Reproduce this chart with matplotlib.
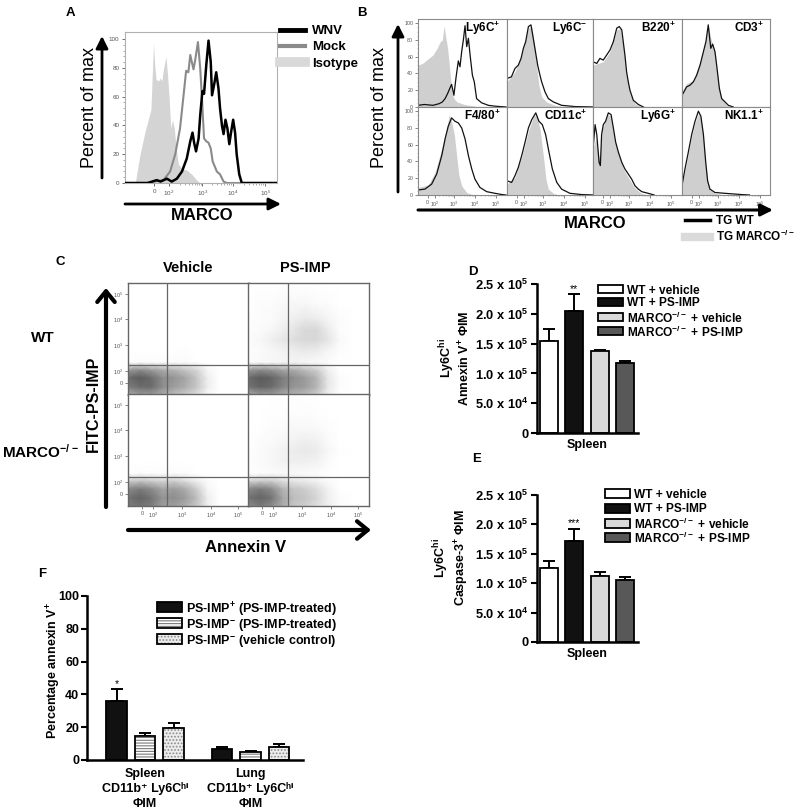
import numpy as np
import matplotlib
matplotlib.use("Agg")
import matplotlib.pyplot as plt
from matplotlib.patches import Rectangle
from matplotlib.lines import Line2D
from matplotlib.colors import LinearSegmentedColormap
from matplotlib.transforms import blended_transform_factory

# ---------------- data ----------------
# Panel A : MARCO histograms (x = log-decade channel, y = percent of max)
a_iso_x = [0.91, 1.06, 1.22, 1.40, 1.45, 1.48, 1.52, 1.56, 1.64, 1.69, 1.74, 1.79, 1.87,
           1.92, 1.97, 2.02, 2.07, 2.13, 2.19, 2.26, 2.37, 2.52, 2.68, 2.83, 2.94]
a_iso_y = [0, 20, 36, 51, 80, 97, 82, 72, 71, 73, 71, 79, 88, 75, 59, 38, 44, 38, 24, 13,
           10, 9, 6, 2, 0]
a_mock_x = [0.6, 1.27, 1.5, 1.79, 2.0, 2.16, 2.31, 2.42, 2.5, 2.57, 2.63, 2.68, 2.73, 2.78,
            2.87, 2.94, 2.99, 3.06, 3.13, 3.2, 3.27, 3.33, 3.46, 3.56, 3.67, 3.77, 5.34]
a_mock_y = [0, 0, 1, 2, 8, 20, 38, 61, 78, 77, 89, 84, 79, 85, 98, 80, 61, 31, 29, 28, 24,
            15, 8, 6, 1, 0, 0]
a_wnv_x = [0.6, 1.3, 1.58, 1.7, 1.9, 2.05, 2.21, 2.37, 2.52, 2.63, 2.70, 2.75, 2.81, 2.89,
           2.94, 3.01, 3.06, 3.13, 3.2, 3.27, 3.31, 3.38, 3.44, 3.51, 3.56, 3.62, 3.67, 3.73,
           3.79, 3.85, 3.91, 3.97, 4.03, 4.08, 4.16, 4.24, 5.34]
a_wnv_y = [0, 0, 2, 1, 3, 1, 3, 8, 17, 29, 35, 28, 22, 31, 47, 64, 62, 82, 99, 84, 61, 69,
           77, 66, 52, 40, 34, 44, 38, 27, 36, 44, 35, 20, 6, 0, 0]
a_legend = ["WNV", "Mock", "Isotype"]

# Panel B : per-population histograms (gray = TG MARCO-/-, black = TG WT)
b_titles = ["Ly6C$^{+}$", "Ly6C$^{-}$", "B220$^{+}$", "CD3$^{+}$",
            "F4/80$^{+}$", "CD11c$^{+}$", "Ly6G$^{+}$", "NK1.1$^{+}$"]
b_gray_x = [
    [1.29, 1.5, 1.8, 2.0, 2.2, 2.35, 2.45, 2.53, 2.6, 2.7, 2.8, 2.9, 3.0, 3.15, 3.5, 4.0, 4.3],
    [1.29, 1.67, 1.99, 2.31, 2.47, 2.59, 2.70, 2.81, 2.94, 3.18, 3.58, 4.05],
    [1.29, 1.78, 2.1, 2.42, 2.58, 2.73, 2.89, 3.05, 3.29, 3.61],
    [1.29, 1.51, 1.83, 2.15, 2.39, 2.54, 2.66, 2.86, 3.02, 3.18, 3.42, 3.66],
    [1.29, 1.78, 2.1, 2.42, 2.66, 2.78, 2.89, 3.02, 3.13, 3.24, 3.37, 3.61, 3.93],
    [1.29, 1.67, 1.99, 2.31, 2.55, 2.70, 2.86, 3.02, 3.15, 3.26, 3.5, 3.74],
    [1.29, 1.32, 1.43, 1.59, 1.75, 1.99, 2.15, 2.31, 2.55, 2.78, 3.02, 3.26, 3.58, 3.9],
    [1.29, 1.43, 1.59, 1.75, 1.91, 2.07, 2.19, 2.31, 2.42, 2.51, 2.62, 2.86, 3.3],
]
b_gray_y = [
    [50, 52, 58, 62, 70, 78, 80, 97, 85, 70, 45, 18, 10, 6, 3, 1, 0],
    [30, 42, 62, 94, 96, 75, 50, 26, 12, 6, 2, 0],
    [50, 54, 66, 92, 94, 74, 38, 16, 4, 0],
    [18, 28, 32, 54, 76, 98, 82, 66, 30, 10, 2, 0],
    [9, 12, 27, 55, 80, 96, 88, 72, 47, 23, 11, 3, 0],
    [13, 21, 45, 76, 94, 96, 79, 47, 18, 7, 2, 0],
    [55, 59, 67, 43, 80, 96, 94, 67, 45, 29, 19, 9, 2, 0],
    [10, 29, 49, 70, 86, 97, 92, 70, 36, 15, 6, 2, 0],
]
b_black_x = [
    [1.29, 1.6, 2.0, 2.3, 2.45, 2.58, 2.7, 2.8, 2.89, 3.0, 3.1, 3.21, 3.29, 3.37, 3.45, 3.53,
     3.61, 3.69, 3.78, 3.88, 3.97, 4.08, 4.32, 4.64, 4.95, 5.48],
    [1.29, 1.5, 1.67, 1.83, 1.96, 2.07, 2.18, 2.31, 2.43, 2.5, 2.62, 2.75, 2.86, 2.94, 3.1,
     3.26, 3.5, 3.89, 4.53, 5.48],
    [1.29, 1.47, 1.62, 1.78, 1.94, 2.1, 2.26, 2.42, 2.54, 2.66, 2.73, 2.81, 2.89, 2.97, 3.05,
     3.21, 3.45, 3.69],
    [1.29, 1.51, 1.67, 1.83, 1.99, 2.15, 2.31, 2.43, 2.54, 2.66, 2.75, 2.86, 2.94, 3.07, 3.18,
     3.34, 3.5, 3.73],
    [1.29, 1.62, 1.94, 2.18, 2.42, 2.58, 2.73, 2.89, 3.05, 3.21, 3.37, 3.53, 3.69, 3.85, 4.0,
     4.24, 4.56, 4.96, 5.3, 5.48],
    [1.29, 1.51, 1.67, 1.83, 1.99, 2.15, 2.31, 2.47, 2.66, 2.81, 2.97, 3.13, 3.29, 3.45, 3.66,
     3.89, 4.29, 4.85, 5.48],
    [1.29, 1.32, 1.39, 1.47, 1.58, 1.64, 1.7, 1.78, 1.89, 2.02, 2.15, 2.26, 2.37, 2.5, 2.66,
     2.81, 2.97, 3.13, 3.29, 3.45, 3.61, 3.92, 4.2],
    [1.29, 1.32, 1.43, 1.59, 1.75, 1.91, 2.07, 2.19, 2.31, 2.42, 2.51, 2.62, 2.86, 3.34, 4.13,
     4.5],
]
b_black_y = [
    [2, 3, 2, 4, 6, 10, 16, 22, 27, 14, 35, 55, 48, 66, 80, 97, 72, 82, 60, 38, 30, 10, 5, 2,
     1, 0],
    [34, 36, 46, 50, 58, 70, 78, 96, 98, 88, 70, 50, 38, 30, 18, 10, 6, 2, 0.5, 0],
    [54, 52, 58, 56, 62, 68, 78, 94, 96, 92, 78, 62, 42, 30, 20, 8, 3, 0],
    [14, 24, 26, 30, 38, 50, 66, 78, 98, 70, 75, 66, 50, 22, 10, 6, 2, 0],
    [6, 7, 13, 25, 47, 67, 82, 92, 88, 86, 80, 67, 47, 31, 19, 9, 4, 2, 0.5, 0],
    [17, 15, 23, 33, 47, 63, 80, 90, 98, 88, 84, 72, 51, 31, 15, 7, 2, 0.5, 0],
    [55, 63, 84, 72, 39, 35, 72, 84, 88, 98, 96, 80, 63, 51, 39, 31, 25, 19, 11, 7, 4, 2, 0],
    [12, 15, 31, 51, 72, 88, 100, 94, 72, 39, 17, 7, 3, 2, 0.5, 0],
]
b_legend = ["TG WT", "TG MARCO$^{-/-}$"]

# log-channel tick labels used by the flow plots
flow_tick_labels = ["0", "10$^{2}$", "10$^{3}$", "10$^{4}$", "10$^{5}$"]

# Panel C : event density on a coarse log-channel grid
c_cols = ["Vehicle", "PS-IMP"]
c_rows = ["WT", "MARCO$^{-/-}$"]
c_grid_x = [1.07, 1.5, 1.9, 2.3, 2.7, 3.1, 3.5, 3.9, 4.3, 4.8, 5.36]
c_grid_y = [1.08, 1.4, 1.75, 2.05, 2.35, 2.8, 3.2, 3.6, 4.0, 4.6, 5.38]
c_wt_vehicle = [
    [0.5, 0.6, 0.6, 0.5, 0.4, 0.3, 0.2, 0.05, 0, 0, 0],
    [0.8, 0.9, 0.9, 0.7, 0.6, 0.5, 0.35, 0.1, 0, 0, 0],
    [0.9, 1.0, 0.9, 0.7, 0.65, 0.55, 0.35, 0.1, 0, 0, 0],
    [0.6, 0.7, 0.6, 0.5, 0.45, 0.35, 0.25, 0.05, 0, 0, 0],
    [0, 0.03, 0.03, 0.03, 0.03, 0.03, 0, 0, 0, 0, 0],
    [0, 0, 0, 0, 0, 0.01, 0, 0, 0, 0, 0],
    [0, 0, 0, 0, 0, 0, 0, 0, 0, 0, 0],
    [0, 0, 0, 0, 0, 0, 0, 0, 0, 0, 0],
    [0, 0, 0, 0, 0, 0, 0, 0, 0, 0, 0],
    [0, 0, 0, 0, 0, 0, 0, 0, 0, 0, 0],
    [0, 0, 0, 0, 0, 0, 0, 0, 0, 0, 0],
]
c_wt_psimp = [
    [0.5, 0.6, 0.6, 0.5, 0.45, 0.4, 0.3, 0.1, 0, 0, 0],
    [0.85, 0.95, 0.9, 0.75, 0.65, 0.6, 0.45, 0.15, 0.02, 0, 0],
    [0.9, 1.0, 0.95, 0.8, 0.7, 0.6, 0.45, 0.15, 0.02, 0, 0],
    [0.6, 0.7, 0.65, 0.55, 0.5, 0.4, 0.3, 0.1, 0, 0, 0],
    [0.02, 0.04, 0.05, 0.06, 0.07, 0.05, 0.04, 0.02, 0, 0, 0],
    [0.02, 0.03, 0.05, 0.08, 0.12, 0.14, 0.12, 0.06, 0.02, 0, 0],
    [0.02, 0.05, 0.1, 0.15, 0.2, 0.24, 0.24, 0.16, 0.04, 0, 0],
    [0.02, 0.03, 0.05, 0.1, 0.16, 0.24, 0.24, 0.12, 0.02, 0, 0],
    [0.01, 0.02, 0.03, 0.06, 0.1, 0.14, 0.12, 0.06, 0.02, 0, 0],
    [0, 0.02, 0.02, 0.04, 0.05, 0.05, 0.03, 0.02, 0, 0, 0],
    [0, 0, 0, 0, 0, 0, 0, 0, 0, 0, 0],
]
c_ko_vehicle = [
    [0.8, 0.85, 0.8, 0.6, 0.6, 0.5, 0.35, 0.1, 0, 0, 0],
    [0.85, 0.95, 0.85, 0.65, 0.7, 0.6, 0.4, 0.1, 0, 0, 0],
    [0.7, 0.8, 0.7, 0.55, 0.6, 0.5, 0.3, 0.05, 0, 0, 0],
    [0.3, 0.35, 0.3, 0.25, 0.3, 0.2, 0.1, 0.02, 0, 0, 0],
    [0, 0.02, 0.02, 0.02, 0.02, 0.02, 0, 0, 0, 0, 0],
    [0, 0, 0, 0, 0, 0, 0, 0, 0, 0, 0],
    [0, 0, 0, 0, 0, 0, 0, 0, 0, 0, 0],
    [0, 0, 0, 0, 0, 0, 0, 0, 0, 0, 0],
    [0, 0, 0, 0, 0, 0, 0, 0, 0, 0, 0],
    [0, 0, 0, 0, 0, 0, 0, 0, 0, 0, 0],
    [0, 0, 0, 0, 0, 0, 0, 0, 0, 0, 0],
]
c_ko_psimp = [
    [0.7, 0.8, 0.7, 0.5, 0.35, 0.3, 0.2, 0.1, 0.02, 0, 0],
    [0.85, 0.95, 0.85, 0.55, 0.4, 0.35, 0.25, 0.1, 0.02, 0, 0],
    [0.7, 0.8, 0.7, 0.45, 0.35, 0.3, 0.2, 0.08, 0, 0, 0],
    [0.25, 0.3, 0.3, 0.2, 0.15, 0.12, 0.08, 0.03, 0, 0, 0],
    [0.01, 0.02, 0.03, 0.04, 0.04, 0.03, 0.02, 0.01, 0, 0, 0],
    [0.01, 0.03, 0.05, 0.08, 0.1, 0.1, 0.08, 0.03, 0, 0, 0],
    [0.01, 0.03, 0.05, 0.08, 0.12, 0.14, 0.12, 0.05, 0.01, 0, 0],
    [0, 0.02, 0.03, 0.05, 0.08, 0.1, 0.08, 0.03, 0, 0, 0],
    [0, 0.01, 0.02, 0.03, 0.05, 0.05, 0.04, 0.02, 0, 0, 0],
    [0, 0, 0.01, 0.01, 0.02, 0.02, 0.01, 0, 0, 0, 0],
    [0, 0, 0, 0, 0, 0, 0, 0, 0, 0, 0],
]
c_gate_x = [2.46, 2.5]      # annexin V gate per column
c_gate_y = [2.23, 2.19]     # PS-IMP gate per row

# Panels D / E : bar charts (Spleen)
de_groups = ["WT + vehicle", "WT + PS-IMP", "MARCO$^{-/-}$ + vehicle", "MARCO$^{-/-}$ + PS-IMP"]
d_means = [1.54e5, 2.05e5, 1.38e5, 1.18e5]
d_err = [0.20e5, 0.28e5, 0.02e5, 0.03e5]
e_means = [1.26e5, 1.71e5, 1.12e5, 1.05e5]
e_err = [0.12e5, 0.22e5, 0.07e5, 0.06e5]
de_ticks = [0, 5e4, 1e5, 1.5e5, 2e5, 2.5e5]
de_ticklabels = ["0", "5.0 x 10$^{4}$", "1.0 x 10$^{5}$", "1.5 x 10$^{5}$",
                 "2.0 x 10$^{5}$", "2.5 x 10$^{5}$"]

# Panel F : percentage annexin V+
f_series = ["PS-IMP$^{+}$ (PS-IMP-treated)", "PS-IMP$^{-}$ (PS-IMP-treated)",
            "PS-IMP$^{-}$ (vehicle control)"]
f_groups = [["Spleen", "CD11b⁺ Ly6Cʰⁱ", "ΦIM"],
            ["Lung", "CD11b⁺ Ly6Cʰⁱ", "ΦIM"]]
f_spleen = [36, 14.5, 19.3]
f_spleen_err = [7, 2.1, 3]
f_lung = [6.5, 4.7, 8.1]
f_lung_err = [1.6, 0.8, 1.7]

# ---------------- style ----------------
plt.rcParams['font.family'] = ['Liberation Sans', 'DejaVu Sans']
plt.rcParams['mathtext.default'] = 'regular'
plt.rcParams['hatch.linewidth'] = 0.8

W, H = 800, 811
fig = plt.figure(figsize=(W / 100, H / 100), dpi=100)
fig.patch.set_facecolor('white')


def add_ax(l, t, w, h, **kw):
    return fig.add_axes([l / W, 1 - (t + h) / H, w / W, h / H], **kw)


def fig_anchor(x, y):
    return (x / W, 1 - y / H)


ov = fig.add_axes([0, 0, 1, 1], zorder=20)
ov.set_xlim(0, W)
ov.set_ylim(H, 0)
ov.axis('off')


def arrow(x0, y0, x1, y1, lw=2.0, style='-|>', hl=0.6, hw=0.3, ms=12):
    ov.annotate('', xy=(x1, y1), xytext=(x0, y0),
                arrowprops=dict(arrowstyle=f'{style},head_length={hl},head_width={hw}',
                                lw=lw, color='black', shrinkA=0, shrinkB=0,
                                mutation_scale=ms))


def label(x, y, s, size=9, bold=True, **kw):
    ov.text(x, y, s, fontsize=size, fontweight='bold' if bold else 'normal',
            ha=kw.pop('ha', 'center'), va=kw.pop('va', 'center'), **kw)


def key_rows(x, rows_y, w, h, labels, styles, size):
    """Manual legend: a swatch and a bold label per row."""
    for y, lab, st in zip(rows_y, labels, styles):
        for kw in st:
            ov.add_patch(Rectangle((x, y - h / 2), w, h, **kw))
        ov.text(x + w + 4, y, lab, fontsize=size, fontweight='bold', ha='left',
                va='center_baseline')


minor_log = [d + np.log10(k) for d in (2, 3, 4) for k in range(2, 10)]

# ---------------- Panel A ----------------
label(70, 13, 'A', 9.5)
axA = add_ax(125, 32, 152, 151)
axA.fill_between(a_iso_x, a_iso_y, color='#d4d4d4', lw=0, zorder=1)
axA.plot(a_mock_x, a_mock_y, color='#8a8a8a', lw=1.5, zorder=2)
axA.plot(a_wnv_x, a_wnv_y, color='black', lw=1.8, zorder=3)
axA.set_xlim(0.59, 5.34)
axA.set_ylim(0, 105)
for s in axA.spines.values():
    s.set_color('#b0b0b0')
    s.set_linewidth(0.8)
axA.set_yticks([0, 20, 40, 60, 80, 100])
axA.set_yticks(np.arange(0, 101, 4), minor=True)
axA.set_xticks([1.5, 1.95, 3, 3.97, 4.97])
axA.set_xticklabels(flow_tick_labels)
axA.set_xticks(minor_log, minor=True)
axA.tick_params(which='major', labelsize=4.5, colors='#555555', length=2.5, width=0.6, pad=1.5)
axA.tick_params(which='minor', colors='#888888', length=1.3, width=0.5)
hA = [Line2D([], [], color='black', lw=3.5), Line2D([], [], color='#8a8a8a', lw=3),
      Line2D([], [], color='#d9d9d9', lw=7)]
axA.legend(hA, a_legend, loc='upper left', bbox_to_anchor=fig_anchor(280, 25),
           bbox_transform=fig.transFigure, frameon=False,
           prop={'weight': 'bold', 'size': 9.5}, handlelength=1.9, handletextpad=0.55,
           labelspacing=0.3, borderpad=0, borderaxespad=0)
label(89, 107, 'Percent of max', 13, bold=False, rotation=90)
arrow(102, 178, 102, 36)
arrow(125, 204, 281, 204)
label(202, 216, 'MARCO', 12)

# ---------------- Panel B ----------------
label(362, 13, 'B', 9.5)
b_lefts = [418, 507, 593, 682]
b_widths = [89, 86, 89, 88]
b_tops = [19, 107]
axesB = []
for i in range(8):
    r, c = divmod(i, 4)
    ax = add_ax(b_lefts[c], b_tops[r], b_widths[c], 88)
    ax.fill_between(b_gray_x[i], b_gray_y[i], color='#cfcfcf', lw=0, zorder=1)
    ax.plot(b_black_x[i], b_black_y[i], color='#111111', lw=0.9, zorder=2)
    ax.set_xlim(1.29, 1.29 + b_widths[c] / 21.0)
    ax.set_ylim(0, 105)
    for s in ax.spines.values():
        s.set_color('#8a8a8a')
        s.set_linewidth(0.8)
    if c == 0:
        ax.set_yticks([0, 20, 40, 60, 80, 100])
        ax.set_yticks(np.arange(0, 101, 5), minor=True)
    else:
        ax.set_yticks([])
    if r == 1:
        ax.set_xticks([1.75, 2.1, 3, 4, 5])
        ax.set_xticklabels(flow_tick_labels)
        ax.set_xticks(minor_log, minor=True)
    else:
        ax.set_xticks([])
    ax.tick_params(which='major', labelsize=3.8, colors='#555555', length=2, width=0.5, pad=1.5)
    ax.tick_params(which='minor', colors='#888888', length=1, width=0.4)
    ax.text(0.93, 0.895, b_titles[i], transform=ax.transAxes, ha='right', va='center',
            fontsize=8.5, fontweight='bold')
    axesB.append(ax)
hB = [Line2D([], [], color='black', lw=2.5), Line2D([], [], color='#dadada', lw=6)]
axesB[-1].legend(hB, b_legend, loc='upper left', bbox_to_anchor=fig_anchor(685, 215),
                 bbox_transform=fig.transFigure, frameon=False,
                 prop={'weight': 'bold', 'size': 8.5}, handlelength=2.1,
                 handletextpad=0.55, labelspacing=0.15, borderpad=0, borderaxespad=0)
label(380, 107, 'Percent of max', 13, bold=False, rotation=90)
arrow(398, 192, 398, 24)
arrow(418, 210, 773, 210, lw=2.2)
label(595, 223, 'MARCO', 12)

# ---------------- Panel C ----------------
label(60, 262, 'C', 9.5)
dots_cmap = LinearSegmentedColormap.from_list('dots', ['#ffffff', '#5c5c5c'])
c_data = [[c_wt_vehicle, c_wt_psimp], [c_ko_vehicle, c_ko_psimp]]
c_lefts = [128, 248]
c_tops = [283, 394]
for r in range(2):
    for c in range(2):
        ax = add_ax(c_lefts[c], c_tops[r], 121, 112)
        ax.pcolormesh(c_grid_x, c_grid_y, np.array(c_data[r][c]), shading='gouraud',
                      cmap=dots_cmap, vmin=0, vmax=1.0, zorder=1)
        ax.axvline(c_gate_x[c], color='#666666', lw=0.9, zorder=3)
        ax.axhline(c_gate_y[r], color='#666666', lw=0.9, zorder=3)
        ax.set_xlim(1.07, 5.36)
        ax.set_ylim(1.08, 5.38)
        for s in ax.spines.values():
            s.set_color('#666666')
            s.set_linewidth(1.0)
        if c == 0:
            ax.set_yticks([1.54, 2, 3, 4, 4.96])
            ax.set_yticklabels(flow_tick_labels)
        else:
            ax.set_yticks([])
        if r == 1:
            ax.set_xticks([1.57, 1.96, 3, 4, 4.96])
            ax.set_xticklabels(flow_tick_labels)
        else:
            ax.set_xticks([])
        ax.tick_params(labelsize=4, colors='#555555', length=2, width=0.5, pad=1.5)
label(188, 268, c_cols[0], 10.5)
label(305, 268, c_cols[1], 10.5)
label(43, 338, c_rows[0], 11)
label(40, 452, c_rows[1], 11)
label(93, 404, 'FITC-PS-IMP', 11.5, rotation=90)
arrow(106, 507, 106, 288, lw=3, style='->', hl=0.55, hw=0.45, ms=14)
arrow(128, 530, 371, 530, lw=3, style='->', hl=0.55, hw=0.45, ms=14)
label(246, 547, 'Annexin V', 12)

# ---------------- Panels D / E ----------------
de_colors = ['white', '#111111', '#d9d9d9', '#585858']


def bar_panel(top, h, means, errs, stars, ylab, ylab_xy, leg_x, leg_rows, leg_h):
    ax = add_ax(537, top, 101, h)
    x = np.arange(len(means))
    ax.bar(x, means, width=0.72, color=de_colors, edgecolor='black', lw=1.3, zorder=2)
    ax.errorbar(x, means, yerr=[np.zeros(len(errs)), errs], fmt='none', ecolor='black',
                elinewidth=1.4, capsize=4.5, capthick=1.4, zorder=1)
    ax.text(1, means[1] + errs[1], stars, ha='center', va='bottom', fontsize=7.5)
    ax.set_xlim(-0.47, 3.51)
    ax.set_ylim(0, 2.5e5)
    for sp in ['top', 'right']:
        ax.spines[sp].set_visible(False)
    for sp in ['left', 'bottom']:
        ax.spines[sp].set_linewidth(1.8)
    ax.set_yticks(de_ticks)
    ax.set_yticklabels(de_ticklabels)
    ax.set_xticks([1.5])
    ax.set_xticklabels(['Spleen'])
    ax.tick_params(axis='y', length=4, width=1.5, pad=2, labelsize=9.3)
    ax.tick_params(axis='x', length=0, pad=4, labelsize=9)
    for t in ax.get_xticklabels() + ax.get_yticklabels():
        t.set_fontweight('bold')
    styles = [[dict(facecolor=cc, edgecolor='black', lw=1.3)] for cc in de_colors]
    key_rows(leg_x, leg_rows, 25, leg_h, de_groups, styles, 8.6)
    label(ylab_xy[0], ylab_xy[1], ylab, 9, rotation=90, linespacing=1.1)
    return ax


label(473, 272, 'D', 9.5)
bar_panel(284, 149, d_means, d_err, '**', 'Ly6C$^{hi}$\nAnnexin V$^{+}$ ΦIM',
          (455, 358), 598, [289, 302, 317, 331], 8)
label(477, 459, 'E', 9.5)
bar_panel(495, 147, e_means, e_err, '***', 'Ly6C$^{hi}$\nCaspase-3$^{+}$ ΦIM',
          (451, 558), 605, [493, 508, 523, 537], 9)

# ---------------- Panel F ----------------
label(42, 574, 'F', 9.5)
axF = add_ax(87, 596, 216, 164)
spleen_pos = np.arange(3)
lung_pos = spleen_pos + 3.7
f_face = ['#111111', 'white', '#ececec']
f_hatch = [None, '------', '.....']
f_hcol = ['black', '#7a7a7a', '#8a8a8a']
for j in range(3):
    xs = [spleen_pos[j], lung_pos[j]]
    ys = [f_spleen[j], f_lung[j]]
    es = [f_spleen_err[j], f_lung_err[j]]
    axF.errorbar(xs, ys, yerr=[[0, 0], es], fmt='none', ecolor='black', elinewidth=1.4,
                 capsize=4.5, capthick=1.4, zorder=1)
    axF.bar(xs, ys, width=0.72, color=f_face[j], edgecolor=f_hcol[j], hatch=f_hatch[j],
            lw=0, zorder=2)
    axF.bar(xs, ys, width=0.72, facecolor='none', edgecolor='black', lw=1.3, zorder=3)
axF.text(spleen_pos[0], f_spleen[0] + f_spleen_err[0], '*', ha='center', va='bottom',
         fontsize=7.5)
axF.set_xlim(-1.035, 6.54)
axF.set_ylim(0, 100)
for sp in ['top', 'right']:
    axF.spines[sp].set_visible(False)
for sp in ['left', 'bottom']:
    axF.spines[sp].set_linewidth(1.8)
axF.set_yticks([0, 20, 40, 60, 80, 100])
axF.set_xticks([])
axF.tick_params(axis='y', length=4, width=1.5, pad=1.5, labelsize=9)
for t in axF.get_yticklabels():
    t.set_fontweight('bold')
# group labels: x from the data axis, y (baselines) in figure pixels
grp_tr = blended_transform_factory(axF.transData, ov.transData)
for gx, lines in zip([spleen_pos[1], lung_pos[1]], f_groups):
    for ly, txt in zip([777, 792, 807], lines):
        axF.text(gx, ly, txt, transform=grp_tr, ha='center', va='baseline',
                 fontsize=9, fontweight='bold', clip_on=False)
f_styles = [[dict(facecolor=f_face[j], edgecolor=f_hcol[j], hatch=f_hatch[j], lw=0),
             dict(facecolor='none', edgecolor='black', lw=1.3)] for j in range(3)]
key_rows(157, [607, 623, 639], 25, 10, f_series, f_styles, 9)
label(54, 671, 'Percentage annexin V$^{+}$', 9, rotation=90)

fig.savefig('out.png', dpi=100, facecolor='white')
